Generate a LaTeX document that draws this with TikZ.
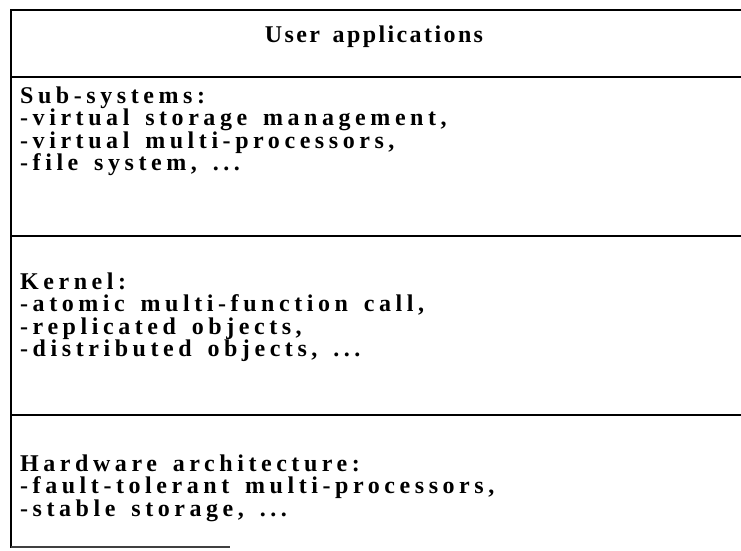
\documentclass[tikz,border=0pt]{standalone}
\usepackage{fontspec}
\setmainfont{Liberation Serif}[LetterSpace=19.0, WordSpace=1.5]
\begin{document}
\begin{tikzpicture}[x=1pt, y=-1pt,
  rule/.style={line width=2.2pt, black},
  thinrule/.style={line width=1.2pt, black!75},
  txt/.style={anchor=base west, inner sep=0pt, font=\fontsize{24}{22.5}\selectfont\bfseries},
  title/.style={anchor=base, inner sep=0pt, font=\fontsize{24}{22.5}\selectfont\bfseries\addfontfeature{LetterSpace=10.0}}]
  \useasboundingbox (0,0) rectangle (741,550);

  % frame of the layer stack
  \draw[rule] (11,548) -- (11,10) -- (741,10);
  \draw[rule] (11,77) -- (741,77);
  \draw[rule] (11,236) -- (741,236);
  \draw[rule] (11,415) -- (741,415);
  \draw[thinrule] (11,547) -- (230,547);

  % top layer
  \node[title] (user) at (374,42) {User applications};

  % sub-systems layer
  \node[txt] (sub0) at (20,103)   {Sub-systems:};
  \node[txt] (sub1) at (20,125.5) {-virtual storage management,};
  \node[txt] (sub2) at (20,148)   {-virtual multi-processors,};
  \node[txt] (sub3) at (20,170.5) {-file system, ...};

  % kernel layer
  \node[txt] (ker0) at (20,289)   {Kernel:};
  \node[txt] (ker1) at (20,311.5) {-atomic multi-function call,};
  \node[txt] (ker2) at (20,334)   {-replicated objects,};
  \node[txt] (ker3) at (20,356.5) {-distributed objects, ...};

  % hardware layer
  \node[txt] (hw0) at (20,471)   {Hardware architecture:};
  \node[txt] (hw1) at (20,493.5) {-fault-tolerant multi-processors,};
  \node[txt] (hw2) at (20,516)   {-stable storage, ...};
\end{tikzpicture}
\end{document}
